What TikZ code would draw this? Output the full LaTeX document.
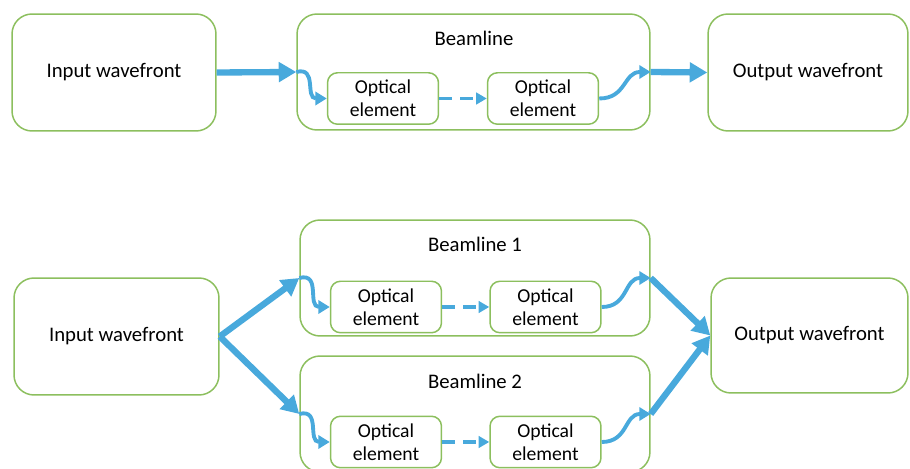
\documentclass[tikz,border=0pt]{standalone}
\usepackage{fontspec}
\setmainfont{Carlito}
\usetikzlibrary{arrows.meta}
\definecolor{boxgreen}{HTML}{8CBF5E}
\definecolor{flowblue}{HTML}{48A9DC}
\begin{document}
\begin{tikzpicture}[x=0.02cm,y=-0.02cm,
  bigbox/.style={draw=boxgreen,line width=0.85pt,rounded corners=0.4cm,minimum height=2.34cm,font=\fontsize{11.8}{13}\selectfont},
  linebox/.style={bigbox,minimum width=7cm,minimum height=2.32cm},
  optbox/.style={draw=boxgreen,line width=0.85pt,rounded corners=0.2cm,minimum width=2.22cm,minimum height=1.03cm,align=center,font=\fontsize{11.2}{13.2}\selectfont},
  title/.style={font=\fontsize{11.8}{13}\selectfont},
  bigarrow/.style={draw=flowblue,line width=3.6pt,-{Triangle[length=10pt,width=11pt]}},
  wavy/.style={draw=flowblue,line width=2.2pt,-{Triangle[length=6.5pt,width=7.5pt]}},
  dasharrow/.style={draw=flowblue,line width=1.8pt,dash pattern=on 7pt off 5pt,-{Triangle[length=6pt,width=6.5pt]}}]
\useasboundingbox (0,0) rectangle (910,469);
\clip (0,0) rectangle (910,469);
\node[bigbox,minimum width=4.08cm](inT)at(114,72.5){Input wavefront};
\node[linebox,minimum width=7.06cm](blT)at(473.5,72){};
\node[title](tT)at(474,38){Beamline};
\node[optbox](oT1)at(383,98.5){Optical\\element};
\node[optbox](oT2)at(543,98.5){Optical\\element};
\node[bigbox,minimum width=4cm](outT)at(808,72.5){Output wavefront};
\draw[bigarrow](inT.east)--(blT.west);
\draw[wavy](blT.west)to[out=15,in=180,looseness=1.4](oT1.west);
\draw[dasharrow](oT1.east)--(oT2.west);
\draw[wavy](oT2.east)to[out=0,in=180,looseness=1.2](blT.east);
\draw[bigarrow](blT.east)--(outT.west);
\node[bigbox,minimum width=4.1cm](inB)at(116.5,336.5){Input wavefront};
\node[linebox](blB1)at(475,278){};
\node[title](tB1)at(475,244){Beamline 1};
\node[optbox](oB1)at(386,307){Optical\\element};
\node[optbox](oB2)at(545.5,307){Optical\\element};
\node[linebox](blB2)at(475,414){};
\node[title](tB2)at(475,381){Beamline 2};
\node[optbox](oB3)at(386,442){Optical\\element};
\node[optbox](oB4)at(545.5,442){Optical\\element};
\node[bigbox,minimum width=3.94cm,minimum height=2.3cm](outB)at(809.5,335.5){Output wavefront};
\draw[bigarrow](inB.east)--(blB1.west);
\draw[bigarrow](inB.east)--(blB2.west);
\draw[wavy](blB1.west)to[out=15,in=180,looseness=1.4](oB1.west);
\draw[dasharrow](oB1.east)--(oB2.west);
\draw[wavy](oB2.east)to[out=0,in=180,looseness=1.2](blB1.east);
\draw[wavy](blB2.west)to[out=15,in=180,looseness=1.4](oB3.west);
\draw[dasharrow](oB3.east)--(oB4.west);
\draw[wavy](oB4.east)to[out=0,in=180,looseness=1.2](blB2.east);
\draw[bigarrow](blB1.east)--(outB.west);
\draw[bigarrow](blB2.east)--(outB.west);
\end{tikzpicture}
\end{document}
